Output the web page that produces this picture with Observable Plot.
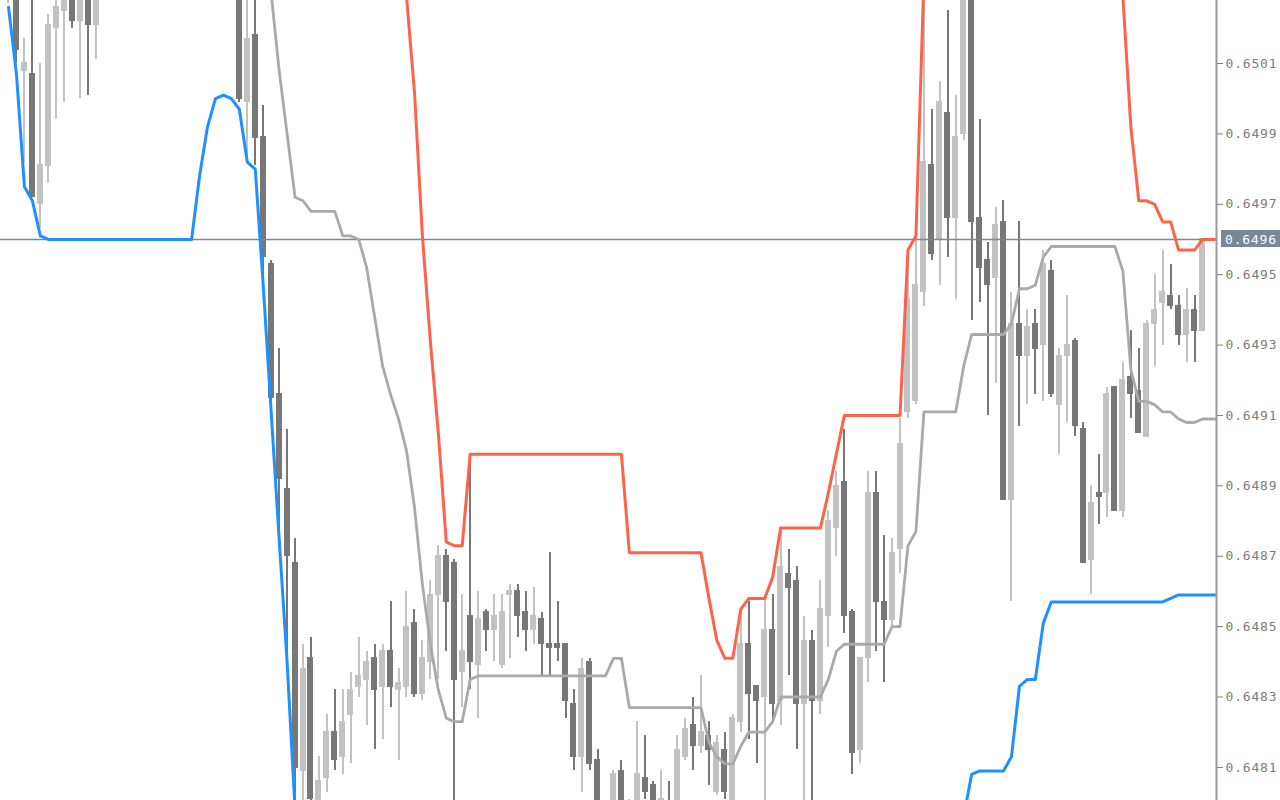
<!DOCTYPE html>
<html>
<head>
<meta charset="utf-8">
<script src="https://cdn.jsdelivr.net/npm/d3@7"></script>
<script src="https://cdn.jsdelivr.net/npm/@observablehq/plot@0.6"></script>
<style>
html, body { margin: 0; padding: 0; background: #ffffff; }
#chart { position: absolute; left: 0; top: 0; }
#chart svg text { letter-spacing: 0.8px; }
</style>
</head>
<body>
<div id="chart"></div>
<script>
// ---- Candles (bar index 0 = leftmost), prices ----
const openP = [
  0.65033, 0.65031, 0.65008, 0.65007, 0.64970, 0.64981, 0.65020, 0.65025, 0.65031, 0.65022,
  0.65031, 0.65021, null, null, null, null, null, null, null, null,
  null, null, null, null, null, null, null, null, null, 0.65031,
  0.64999, 0.65018, 0.64989, 0.64953, 0.64916, 0.64889, 0.64868, 0.64809, 0.64841, 0.64798,
  0.64807, 0.64820, 0.64813, 0.64825, 0.64833, 0.64835, 0.64841, 0.64833, 0.64843, 0.64832,
  0.64833, 0.64851, 0.64831, 0.64840, 0.64859, 0.64870, 0.64868, 0.64837, 0.64853, 0.64839,
  0.64854, 0.64849, 0.64839, 0.64859, 0.64860, 0.64854, 0.64849, 0.64852, 0.64845, 0.64845,
  0.64845, 0.64828, 0.64813, 0.64840, 0.64812, null, 0.64796, 0.64809, 0.64796, 0.64798,
  0.64807, 0.64805, 0.64798, 0.64799, 0.64799, 0.64813, 0.64822, 0.64816, 0.64819, 0.64803,
  0.64815, 0.64798, 0.64823, 0.64845, 0.64833, 0.64830, 0.64849, 0.64829, 0.64865, 0.64863,
  0.64828, 0.64846, 0.64829, 0.64853, 0.64878, 0.64891, 0.64854, 0.64815, 0.64841, 0.64888,
  0.64857, 0.64852, 0.64872, 0.64911, 0.64914, 0.64945, 0.64981, 0.64960, 0.64996, 0.64966,
  0.64990, 0.65031, 0.64966, 0.64954, 0.64949, 0.64965, 0.64886, 0.64936, 0.64927, 0.64936,
  0.64930, 0.64951, 0.64913, 0.64927, 0.64931, 0.64906, 0.64869, 0.64888, 0.64888, 0.64918,
  0.64883, 0.64921, 0.64917, 0.64904, 0.64936, 0.64942, 0.64944, 0.64941, 0.64933, 0.64940,
  0.64934
];
const highP = [
  0.65040, 0.65034, 0.65017, 0.65031, 0.65010, 0.65024, 0.65029, 0.65032, 0.65032, 0.65032,
  0.65032, 0.65032, null, null, null, null, null, null, null, null,
  null, null, null, null, null, null, null, null, null, 0.65032,
  0.65031, 0.65031, 0.64998, 0.64954, 0.64929, 0.64906, 0.64875, 0.64845, 0.64847, 0.64813,
  0.64825, 0.64832, 0.64832, 0.64837, 0.64847, 0.64843, 0.64845, 0.64845, 0.64857, 0.64838,
  0.64860, 0.64855, 0.64846, 0.64863, 0.64873, 0.64872, 0.64869, 0.64859, 0.64899, 0.64860,
  0.64855, 0.64859, 0.64859, 0.64862, 0.64862, 0.64860, 0.64861, 0.64854, 0.64871, 0.64857,
  0.64845, 0.64832, 0.64841, 0.64841, 0.64815, null, 0.64809, 0.64812, 0.64801, 0.64823,
  0.64819, 0.64806, 0.64809, 0.64806, 0.64819, 0.64824, 0.64830, 0.64836, 0.64823, 0.64819,
  0.64820, 0.64825, 0.64855, 0.64857, 0.64833, 0.64858, 0.64859, 0.64878, 0.64872, 0.64867,
  0.64853, 0.64849, 0.64863, 0.64883, 0.64894, 0.64906, 0.64855, 0.64841, 0.64894, 0.64894,
  0.64876, 0.64875, 0.64909, 0.64957, 0.64961, 0.65034, 0.64997, 0.65005, 0.65025, 0.65001,
  0.65032, 0.65032, 0.64994, 0.64959, 0.64969, 0.64971, 0.64945, 0.64965, 0.64940, 0.64940,
  0.64957, 0.64954, 0.64929, 0.64944, 0.64932, 0.64908, 0.64890, 0.64899, 0.64918, 0.64918,
  0.64925, 0.64934, 0.64929, 0.64937, 0.64950, 0.64957, 0.64953, 0.64944, 0.64946, 0.64944,
  0.64960
];
const lowP = [
  0.65027, 0.65010, 0.64982, 0.64972, 0.64963, 0.64976, 0.64994, 0.64999, 0.65020, 0.65000,
  0.65001, 0.65011, null, null, null, null, null, null, null, null,
  null, null, null, null, null, null, null, null, null, 0.64999,
  0.64982, 0.64981, 0.64947, 0.64911, 0.64875, 0.64840, 0.64798, 0.64799, 0.64796, 0.64795,
  0.64803, 0.64809, 0.64808, 0.64811, 0.64830, 0.64822, 0.64815, 0.64818, 0.64827, 0.64812,
  0.64830, 0.64830, 0.64829, 0.64835, 0.64835, 0.64843, 0.64798, 0.64827, 0.64832, 0.64824,
  0.64843, 0.64840, 0.64838, 0.64841, 0.64847, 0.64843, 0.64845, 0.64836, 0.64836, 0.64840,
  0.64824, 0.64809, 0.64803, 0.64809, 0.64798, null, 0.64795, 0.64798, 0.64795, 0.64796,
  0.64801, 0.64798, 0.64796, 0.64795, 0.64798, 0.64812, 0.64809, 0.64814, 0.64805, 0.64802,
  0.64801, 0.64796, 0.64820, 0.64818, 0.64811, 0.64799, 0.64823, 0.64822, 0.64836, 0.64815,
  0.64799, 0.64799, 0.64825, 0.64844, 0.64870, 0.64848, 0.64808, 0.64811, 0.64834, 0.64843,
  0.64834, 0.64850, 0.64865, 0.64909, 0.64913, 0.64941, 0.64954, 0.64947, 0.64955, 0.64943,
  0.64988, 0.64937, 0.64942, 0.64910, 0.64919, 0.64886, 0.64857, 0.64907, 0.64913, 0.64916,
  0.64914, 0.64915, 0.64899, 0.64908, 0.64904, 0.64868, 0.64859, 0.64879, 0.64881, 0.64883,
  0.64881, 0.64909, 0.64905, 0.64904, 0.64924, 0.64930, 0.64940, 0.64930, 0.64925, 0.64925,
  0.64934
];
const closeP = [
  0.65038, 0.65014, 0.65010, 0.64972, 0.64981, 0.65021, 0.65026, 0.65030, 0.65022, 0.65031,
  0.65021, 0.65031, null, null, null, null, null, null, null, null,
  null, null, null, null, null, null, null, null, null, 0.65000,
  0.65017, 0.64989, 0.64955, 0.64915, 0.64892, 0.64870, 0.64810, 0.64838, 0.64801, 0.64806,
  0.64820, 0.64812, 0.64823, 0.64832, 0.64836, 0.64840, 0.64832, 0.64843, 0.64833, 0.64834,
  0.64850, 0.64831, 0.64841, 0.64859, 0.64870, 0.64857, 0.64835, 0.64843, 0.64840, 0.64852,
  0.64849, 0.64853, 0.64854, 0.64860, 0.64853, 0.64849, 0.64853, 0.64845, 0.64844, 0.64844,
  0.64829, 0.64813, 0.64838, 0.64811, 0.64799, null, 0.64808, 0.64799, 0.64799, 0.64808,
  0.64803, 0.64799, 0.64801, 0.64796, 0.64815, 0.64821, 0.64816, 0.64820, 0.64815, 0.64817,
  0.64803, 0.64824, 0.64845, 0.64831, 0.64829, 0.64849, 0.64828, 0.64867, 0.64861, 0.64828,
  0.64846, 0.64829, 0.64855, 0.64880, 0.64890, 0.64853, 0.64814, 0.64841, 0.64888, 0.64857,
  0.64852, 0.64871, 0.64902, 0.64943, 0.64947, 0.64982, 0.64956, 0.64999, 0.64966, 0.64989,
  0.65031, 0.64965, 0.64952, 0.64947, 0.64964, 0.64886, 0.64936, 0.64927, 0.64935, 0.64929,
  0.64953, 0.64916, 0.64927, 0.64930, 0.64907, 0.64868, 0.64885, 0.64887, 0.64916, 0.64883,
  0.64920, 0.64916, 0.64905, 0.64936, 0.64940, 0.64945, 0.64941, 0.64933, 0.64940, 0.64934,
  0.64960
];

// ---- Channel lines (one value per bar, last two extend to the price axis) ----
const upperBand = [
  null, null, null, null, null, null, null, null, null, null,
  null, null, null, null, null, null, null, null, null, null,
  null, null, null, null, null, null, null, null, null, null,
  null, null, null, null, null, null, null, null, null, null,
  null, null, null, null, null, null, null, null, null, null,
  0.65029, 0.65002, 0.64961, 0.64931, 0.64905, 0.64874, 0.64873, 0.64873, 0.64899, 0.64899,
  0.64899, 0.64899, 0.64899, 0.64899, 0.64899, 0.64899, 0.64899, 0.64899, 0.64899, 0.64899,
  0.64899, 0.64899, 0.64899, 0.64899, 0.64899, 0.64899, 0.64899, 0.64899, 0.64871, 0.64871,
  0.64871, 0.64871, 0.64871, 0.64871, 0.64871, 0.64871, 0.64871, 0.64871, 0.64858, 0.64846,
  0.64841, 0.64841, 0.64855, 0.64858, 0.64858, 0.64858, 0.64864, 0.64878, 0.64878, 0.64878,
  0.64878, 0.64878, 0.64878, 0.64888, 0.64899, 0.64910, 0.64910, 0.64910, 0.64910, 0.64910,
  0.64910, 0.64910, 0.64910, 0.64957, 0.64961, 0.65034, null, null, null, null,
  null, null, null, null, null, null, null, null, null, null,
  null, null, null, null, null, null, null, null, null, null,
  0.65029, 0.64992, 0.64971, 0.64971, 0.64970, 0.64965, 0.64965, 0.64957, 0.64957, 0.64957,
  0.64960, 0.64960, 0.64960
];
const lowerBand = [
  0.65026, 0.65007, 0.64975, 0.64971, 0.64961, 0.64960, 0.64960, 0.64960, 0.64960, 0.64960,
  0.64960, 0.64960, 0.64960, 0.64960, 0.64960, 0.64960, 0.64960, 0.64960, 0.64960, 0.64960,
  0.64960, 0.64960, 0.64960, 0.64960, 0.64978, 0.64992, 0.65000, 0.65001, 0.65000, 0.64997,
  0.64982, 0.64980, 0.64947, 0.64911, 0.64875, 0.64840, 0.64798, null, null, null,
  null, null, null, null, null, null, null, null, null, null,
  null, null, null, null, null, null, null, null, null, null,
  null, null, null, null, null, null, null, null, null, null,
  null, null, null, null, null, null, null, null, null, null,
  null, null, null, null, null, null, null, null, null, null,
  null, null, null, null, null, null, null, null, null, null,
  null, null, null, null, null, null, null, null, null, null,
  null, null, null, null, null, null, null, null, null, null,
  0.64796, 0.64808, 0.64809, 0.64809, 0.64809, 0.64809, 0.64813, 0.64833, 0.64835, 0.64835,
  0.64851, 0.64857, 0.64857, 0.64857, 0.64857, 0.64857, 0.64857, 0.64857, 0.64857, 0.64857,
  0.64857, 0.64857, 0.64857, 0.64857, 0.64857, 0.64857, 0.64858, 0.64859, 0.64859, 0.64859,
  0.64859, 0.64859, 0.64859
];
const middleBand = [
  null, null, null, null, null, null, null, null, null, null,
  null, null, null, null, null, null, null, null, null, null,
  null, null, null, null, null, null, null, null, null, null,
  null, null, null, 0.65030, 0.65008, 0.64990, 0.64972, 0.64971, 0.64968, 0.64968,
  0.64968, 0.64968, 0.64961, 0.64961, 0.64960, 0.64952, 0.64938, 0.64924, 0.64916, 0.64909,
  0.64900, 0.64884, 0.64862, 0.64845, 0.64832, 0.64824, 0.64823, 0.64823, 0.64835, 0.64836,
  0.64836, 0.64836, 0.64836, 0.64836, 0.64836, 0.64836, 0.64836, 0.64836, 0.64836, 0.64836,
  0.64836, 0.64836, 0.64836, 0.64836, 0.64836, 0.64836, 0.64841, 0.64841, 0.64827, 0.64827,
  0.64827, 0.64827, 0.64827, 0.64827, 0.64827, 0.64827, 0.64827, 0.64827, 0.64817, 0.64813,
  0.64811, 0.64811, 0.64816, 0.64820, 0.64820, 0.64820, 0.64823, 0.64830, 0.64830, 0.64830,
  0.64830, 0.64830, 0.64830, 0.64835, 0.64843, 0.64845, 0.64845, 0.64845, 0.64845, 0.64845,
  0.64845, 0.64850, 0.64850, 0.64873, 0.64877, 0.64911, 0.64911, 0.64911, 0.64911, 0.64911,
  0.64924, 0.64933, 0.64933, 0.64933, 0.64933, 0.64933, 0.64936, 0.64946, 0.64946, 0.64947,
  0.64955, 0.64958, 0.64958, 0.64958, 0.64958, 0.64958, 0.64958, 0.64958, 0.64958, 0.64958,
  0.64951, 0.64923, 0.64914, 0.64914, 0.64913, 0.64911, 0.64911, 0.64909, 0.64908, 0.64908,
  0.64909, 0.64909, 0.64909
];

const currentPrice = 0.6496;
const yTicks = [0.6481, 0.6483, 0.6485, 0.6487, 0.6489, 0.6491, 0.6493, 0.6495, 0.6497, 0.6499, 0.6501, 0.6503];

// ---- build ----
const xDomain = [-1.005, 151.76];
const yDomain = [0.648006, 0.650279];
const LIGHT = "#c2c2c2", DARK = "#777777";
const candles = openP.map((o, i) => ({i, o, h: highP[i], l: lowP[i], c: closeP[i]})).filter(d => d.o != null);
const col = d => (d.c >= d.o ? LIGHT : DARK);
const series = arr => arr.map((v, i) => ({i, v}));
const fmt = d3.format(".4f");
const FONT = "'DejaVu Sans Mono', monospace";

const plot = Plot.plot({
  width: 1280,
  height: 800,
  marginLeft: 0,
  marginRight: 64,
  marginTop: 0,
  marginBottom: 0,
  style: {fontFamily: FONT, fontSize: "13px", color: "#7c7c7c", background: "#ffffff", overflow: "visible"},
  x: {domain: xDomain, axis: null},
  y: {domain: yDomain, axis: "right", ticks: yTicks, tickFormat: fmt, tickSize: 6, tickPadding: 3, label: null},
  marks: [
    Plot.ruleX(candles, {x: "i", y1: "l", y2: "h", stroke: col, strokeWidth: 2, clip: true, shapeRendering: "crispEdges"}),
    Plot.rect(candles, {x1: d => d.i - 0.377, x2: d => d.i + 0.377, y1: "o", y2: "c", fill: col, insetTop: -0.6, insetBottom: -0.6, clip: true, shapeRendering: "crispEdges"}),
    Plot.ruleY([currentPrice], {stroke: "#778899", strokeWidth: 1.6}),
    Plot.line(series(middleBand), {x: "i", y: "v", stroke: "#a9a9a9", strokeWidth: 2.8, clip: true}),
    Plot.line(series(upperBand), {x: "i", y: "v", stroke: "#ff6347", strokeWidth: 3, clip: true}),
    Plot.line(series(lowerBand), {x: "i", y: "v", stroke: "#1e90ff", strokeWidth: 3, clip: true}),
    Plot.ruleX([xDomain[1]], {stroke: "#9a9a9a", strokeWidth: 2})
  ]
});

// current price label on the axis
const ys = plot.scale("y");
const yc = ys.apply(currentPrice);
const svg = d3.select(plot);
const g = svg.append("g").attr("text-anchor", "start");
g.append("rect").attr("x", 1221).attr("y", yc - 9).attr("width", 59).attr("height", 17).attr("fill", "#778899");
g.append("text").attr("x", 1225).attr("y", yc).attr("dy", "0.35em").attr("fill", "#ffffff")
  .attr("text-anchor", "start")
  .style("font-family", FONT).style("font-size", "13px").text(fmt(currentPrice));

document.getElementById("chart").appendChild(plot);
</script>
</body>
</html>
